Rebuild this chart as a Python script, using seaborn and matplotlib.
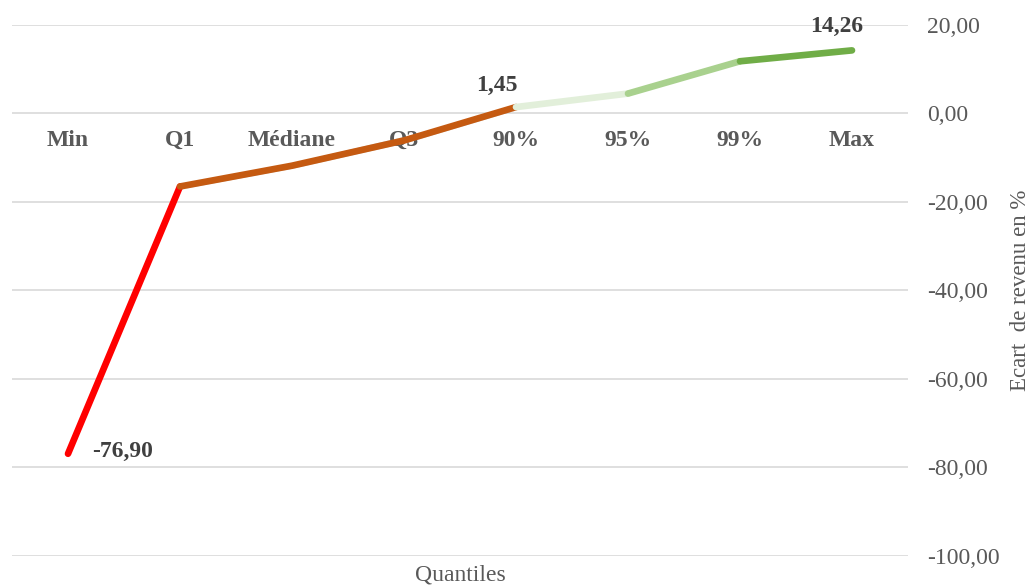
import pandas as pd
import matplotlib.pyplot as plt
import matplotlib.patheffects as pe
from matplotlib.ticker import FuncFormatter
import seaborn as sns

# --- Data ---
quantiles = ["Min", "Q1", "Médiane", "Q3", "90%", "95%", "99%", "Max"]
ecart = [-76.90, -16.5, -11.8, -6.1, 1.45, 4.5, 11.8, 14.26]
# segments drawn between consecutive quantile positions (start, end, colour)
segments = [(0, 1, "#FF0000"), (1, 4, "#C55A11"), (4, 5, "#E2EFDA"),
            (5, 6, "#A9D18E"), (6, 7, "#70AD47")]
labelled = {0: (24, 2, "left"), 4: (-19, 22, "center"), 7: (-15, 24, "center")}

df = pd.DataFrame({"pos": range(len(quantiles)), "quantile": quantiles, "ecart": ecart})

sns.set_theme(style="white")
plt.rcParams["font.family"] = ["Liberation Serif", "DejaVu Serif"]

fig = plt.figure(figsize=(10.35, 5.85), dpi=100)
ax = fig.add_axes([0.0116, 0.0496, 0.8657, 0.9077])

shadow = [pe.SimplePatchShadow(offset=(1.5, -2), shadow_rgbFace="#7f7f7f", alpha=0.35), pe.Normal()]
for start, end, color in segments:
    seg = df.iloc[start:end + 1]
    sns.lineplot(data=seg, x="pos", y="ecart", color=color, linewidth=4.8, ax=ax,
                 solid_capstyle="round", solid_joinstyle="round", path_effects=shadow)

# --- Axes styling ---
ax.set_xlim(-0.5, len(quantiles) - 0.5)
ax.set_ylim(-100, 20)
ax.set_yticks(range(-100, 21, 20))
ax.yaxis.set_major_formatter(FuncFormatter(lambda v, _: f"{v:.2f}".replace(".", ",")))
ax.yaxis.tick_right()
ax.yaxis.set_label_position("right")
ax.grid(axis="y", color="#d9d9d9", linewidth=1.2)
ax.grid(axis="x", visible=False)
for s in ax.spines.values():
    s.set_visible(False)
ax.spines["bottom"].set_position(("data", 0))
ax.set_xticks(df["pos"])
ax.set_xticklabels(quantiles, fontsize=17, fontweight="bold", color="#595959")
ax.tick_params(axis="x", length=0, pad=12)
ax.tick_params(axis="y", length=0, pad=14, labelsize=17, labelcolor="#595959")
ax.set_xlabel("")
ax.set_ylabel("Ecart  de revenu en %", fontsize=16.5, color="#595959", labelpad=7)

fig.text(0.445, 0.017, "Quantiles", ha="center", va="center", fontsize=17, color="#595959")

# --- Data labels ---
for i, (dx, dy, ha) in labelled.items():
    ax.annotate(f"{ecart[i]:.2f}".replace(".", ","), (df["pos"][i], ecart[i]),
                xytext=(dx, dy), textcoords="offset pixels", ha=ha, va="center",
                fontsize=17, fontweight="bold", color="#404040", annotation_clip=False)

fig.savefig("out.png", dpi=100)
plt.close()
